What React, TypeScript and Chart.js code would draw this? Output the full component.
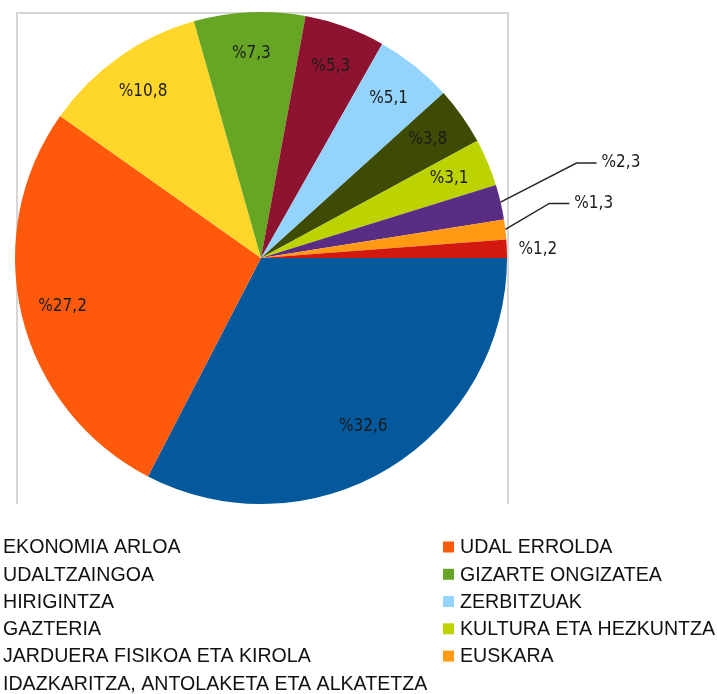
import React, { useEffect, useRef } from "react";
import { Chart, registerables } from "chart.js";

Chart.register(...registerables);

const categories = [
  "EKONOMIA ARLOA",
  "UDAL ERROLDA",
  "UDALTZAINGOA",
  "GIZARTE ONGIZATEA",
  "HIRIGINTZA",
  "ZERBITZUAK",
  "GAZTERIA",
  "KULTURA ETA HEZKUNTZA",
  "JARDUERA FISIKOA ETA KIROLA",
  "EUSKARA",
  "IDAZKARITZA, ANTOLAKETA ETA ALKATETZA",
];
const shares = [32.6, 27.2, 10.8, 7.3, 5.3, 5.1, 3.8, 3.1, 2.3, 1.3, 1.2];
const sliceColors = [
  "#03599B",
  "#FF5A0C",
  "#FFD72B",
  "#66A624",
  "#8E1330",
  "#93D3FC",
  "#3E4B04",
  "#BDD300",
  "#5A2D84",
  "#FF9A12",
  "#D1190F",
];

const fmt = (v: number) => "%" + v.toFixed(1).replace(".", ",");

const framePlugin = {
  id: "frame",
  beforeDraw(chart: any) {
    const ctx = chart.ctx;
    ctx.save();
    ctx.strokeStyle = "#d6d6d6";
    ctx.lineWidth = 2;
    ctx.beginPath();
    ctx.moveTo(17, 504);
    ctx.lineTo(17, 13);
    ctx.lineTo(508, 13);
    ctx.lineTo(508, 504);
    ctx.stroke();
    ctx.restore();
  },
};

const labelPlugin = {
  id: "sliceLabels",
  afterDatasetsDraw(chart: any) {
    const ctx = chart.ctx;
    const meta = chart.getDatasetMeta(0);
    const vals = chart.data.datasets[0].data as number[];
    ctx.save();
    ctx.font = "17px 'DejaVu Sans Condensed', 'Liberation Sans', sans-serif";
    ctx.fillStyle = "#1c1c1c";
    ctx.textBaseline = "middle";
    meta.data.forEach((el: any, i: number) => {
      const { x, y, startAngle, endAngle, outerRadius } = el.getProps(
        ["x", "y", "startAngle", "endAngle", "outerRadius"],
        true
      );
      const mid = (startAngle + endAngle) / 2;
      const txt = fmt(vals[i]);
      if (vals[i] >= 3) {
        const r = outerRadius * (vals[i] > 30 ? 0.8 : 0.83);
        ctx.textAlign = "center";
        ctx.fillText(txt, x + Math.cos(mid) * r, y + Math.sin(mid) * r);
      } else if (i === 8 || i === 9) {
        const ex = x + Math.cos(mid) * outerRadius;
        const ey = y + Math.sin(mid) * outerRadius;
        const elbow = i === 8 ? [76, -39] : [44, -26];
        const bx = ex + elbow[0];
        const by = ey + elbow[1];
        ctx.strokeStyle = "#262626";
        ctx.lineWidth = 1.5;
        ctx.beginPath();
        ctx.moveTo(ex, ey);
        ctx.lineTo(bx, by);
        ctx.lineTo(bx + 20, by);
        ctx.stroke();
        ctx.textAlign = "left";
        ctx.fillText(txt, bx + 25, by);
      } else {
        const ex = x + Math.cos(mid) * outerRadius;
        const ey = y + Math.sin(mid) * outerRadius;
        ctx.textAlign = "center";
        ctx.fillText(txt, ex + 31, ey + 1);
      }
    });
    ctx.restore();
  },
};

const legendPlugin = {
  id: "sideLegend",
  afterDraw(chart: any) {
    const ctx = chart.ctx;
    const labels = chart.data.labels as string[];
    const colors = chart.data.datasets[0].backgroundColor as string[];
    ctx.save();
    ctx.font = "19.6px 'Liberation Sans', Arial, sans-serif";
    ctx.textBaseline = "middle";
    ctx.textAlign = "left";
    labels.forEach((lab, i) => {
      const col = i % 2;
      const row = Math.floor(i / 2);
      const tx = col === 0 ? 3 : 460;
      const ty = 547 + row * 27.27;
      ctx.fillStyle = colors[i];
      ctx.fillRect(tx - 17, ty - 5.5, 11, 11);
      ctx.fillStyle = "#111111";
      ctx.fillText(lab, tx, ty + 1);
    });
    ctx.restore();
  },
};

export default function App() {
  const ref = useRef<HTMLCanvasElement | null>(null);
  useEffect(() => {
    if (!ref.current) return;
    const chart = new Chart(ref.current, {
      type: "pie",
      data: {
        labels: categories,
        datasets: [
          {
            data: shares,
            backgroundColor: sliceColors,
            borderWidth: 0,
          },
        ],
      },
      options: {
        responsive: false,
        animation: false,
        devicePixelRatio: 1,
        rotation: 90,
        layout: { padding: { left: 15, top: 12, right: 210, bottom: 190 } },
        plugins: {
          legend: { display: false },
          tooltip: { enabled: false },
        },
      },
      plugins: [framePlugin, labelPlugin, legendPlugin],
    });
    return () => chart.destroy();
  }, []);
  return (
    <div style={{ position: "absolute", left: 0, top: 0, width: 717, height: 694, background: "#fff" }}>
      <canvas ref={ref} width={717} height={694} style={{ display: "block" }} />
    </div>
  );
}
